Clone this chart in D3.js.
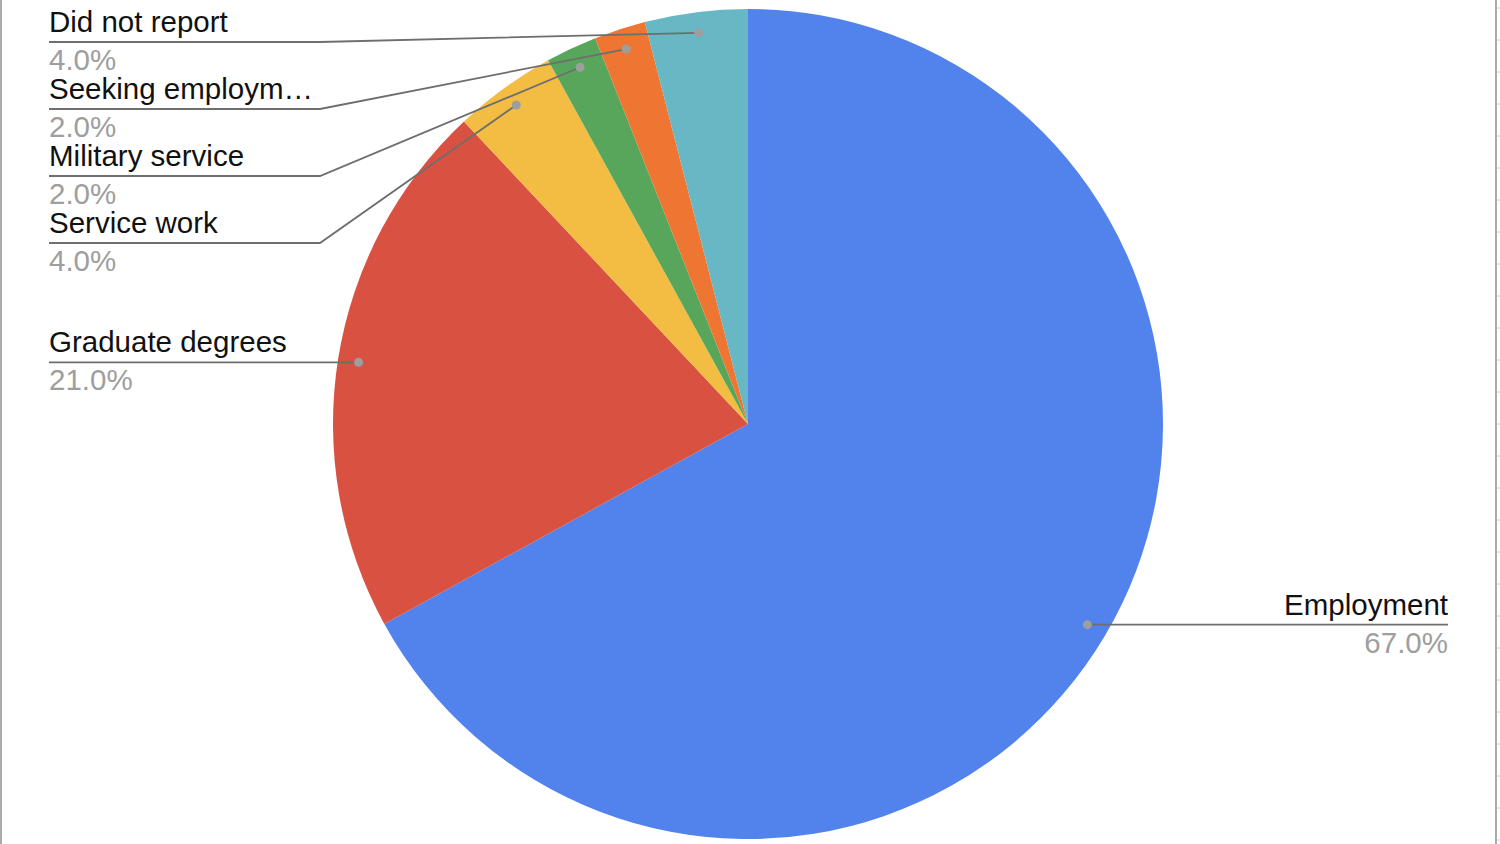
<!DOCTYPE html>
<html>
<head>
<meta charset="utf-8">
<script src="https://cdn.jsdelivr.net/npm/d3@7"></script>
<style>
  html, body { margin: 0; padding: 0; background: #fff; }
  svg { display: block; font-family: "Liberation Sans", Arial, sans-serif; }
</style>
</head>
<body>
<svg id="chart" width="1500" height="844"></svg>
<script>
// chart data
var categories = ["Employment", "Graduate degrees", "Service work", "Military service", "Seeking employment", "Did not report"];
var values = [67, 21, 4, 2, 2, 4];
var colors = ["#5283ec", "#d95140", "#f2bd42", "#57a65b", "#ee7632", "#67b8c4"];

var svg = d3.select("#chart"),
    width = +svg.attr("width"),
    height = +svg.attr("height");

var cx = 748, cy = 424, radius = 415;
var fontSize = 29.5;
var total = d3.sum(values);
var fmt = d3.format(".1%");

var color = d3.scaleOrdinal().domain(categories).range(colors);

// frame edges
svg.append("rect").attr("x", 0).attr("y", 0).attr("width", 2).attr("height", height).attr("fill", "#aaa");
svg.append("rect").attr("x", 1495).attr("y", 0).attr("width", 2).attr("height", height).attr("fill", "#aaa");
svg.append("g").selectAll("line")
    .data(d3.range(8, height, 32))
    .enter().append("line")
    .attr("x1", 1497).attr("x2", 1500)
    .attr("y1", function (d) { return d; }).attr("y2", function (d) { return d; })
    .attr("stroke", "#ccc");

var pie = d3.pie().sort(null).value(function (d) { return d.value; });
var arc = d3.arc().innerRadius(0).outerRadius(radius);
var dotArc = d3.arc().innerRadius(radius * 0.95).outerRadius(radius * 0.95);

var data = categories.map(function (c, i) { return { name: c, value: values[i] }; });
var arcs = pie(data);

var g = svg.append("g").attr("transform", "translate(" + cx + "," + cy + ")");

g.selectAll("path")
    .data(arcs)
    .enter().append("path")
    .attr("d", arc)
    .attr("fill", function (d) { return color(d.data.name); });

// label layout: left side stacked from the top, right side straight
arcs.forEach(function (d) {
    var p = dotArc.centroid(d);
    d.dot = [cx + p[0], cy + p[1]];
    var mid = (d.startAngle + d.endAngle) / 2;
    d.left = mid > Math.PI;
});

var lefts = arcs.filter(function (d) { return d.left; })
    .sort(function (a, b) { return a.dot[1] - b.dot[1]; });
var prev = -Infinity;
lefts.forEach(function (d) {
    d.lineY = Math.max(d.dot[1], prev + 67, 42);
    prev = d.lineY;
});
arcs.filter(function (d) { return !d.left; }).forEach(function (d) { d.lineY = d.dot[1]; });

var labels = svg.append("g");

arcs.forEach(function (d) {
    var pts;
    if (d.left) {
        pts = [[49, d.lineY]];
        if (Math.abs(d.lineY - d.dot[1]) > 0.5) pts.push([320, d.lineY]);
        pts.push(d.dot);
    } else {
        pts = [[1448, d.lineY], d.dot];
    }
    labels.append("path")
        .attr("d", d3.line()(pts))
        .attr("fill", "none")
        .attr("stroke", "#6e6e6e")
        .attr("stroke-width", 1.8);
    labels.append("circle")
        .attr("cx", d.dot[0]).attr("cy", d.dot[1]).attr("r", 4.5)
        .attr("fill", "#9e9e9e");

    var x = d.left ? 49 : 1448,
        anchor = d.left ? "start" : "end";
    var name = labels.append("text")
        .attr("x", x).attr("y", d.lineY - 10)
        .attr("text-anchor", anchor)
        .attr("font-size", fontSize)
        .attr("fill", "#111")
        .text(d.data.name);
    // truncate long names
    var maxW = 271, s = d.data.name;
    while (name.node().getComputedTextLength() > maxW && s.length > 1) {
        s = s.slice(0, -1);
        name.text(s.replace(/\s+$/, "") + "\u2026");
    }
    labels.append("text")
        .attr("x", x).attr("y", d.lineY + 28)
        .attr("text-anchor", anchor)
        .attr("font-size", fontSize)
        .attr("fill", "#9e9e9e")
        .text(fmt(d.data.value / total));
});
</script>
</body>
</html>
